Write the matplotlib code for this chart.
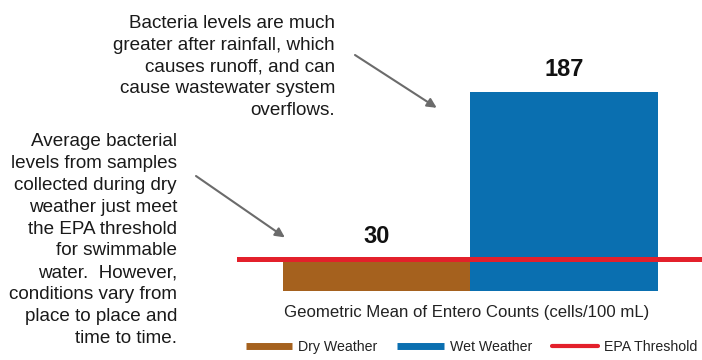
import matplotlib.pyplot as plt
from matplotlib.lines import Line2D

plt.rcParams['font.family'] = ['Liberation Sans', 'DejaVu Sans']

categories = ['Dry Weather', 'Wet Weather']
values = [30, 187]
epa_threshold = 30
colors = ['#A5611E', '#0A6FB0']
red = '#E3202B'

dry_note = ('Average bacterial\nlevels from samples\ncollected during dry\nweather just meet\n'
            'the EPA threshold\nfor swimmable\nwater.  However,\nconditions vary from\n'
            'place to place and\ntime to time.')
wet_note = ('Bacteria levels are much\ngreater after rainfall, which\ncauses runoff, and can\n'
            'cause wastewater system\noverflows.')

W, H = 702, 360
fig = plt.figure(figsize=(W / 100, H / 100), dpi=100)
ax = fig.add_axes([237 / W, 1 - 290.5 / H, 465 / W, 230.5 / H])

x = [0, 1]
ax.bar(x, values, width=1.0, color=colors, zorder=2)
ax.axhline(epa_threshold, color=red, lw=3.6, zorder=3)
for xi, v in zip(x, values):
    ax.annotate(str(v), xy=(xi, v), xytext=(0, 8), textcoords='offset points',
                ha='center', va='bottom', fontsize=17, fontweight='bold', color='#111111')

ax.set_xlim(-0.745, 1.735)
ax.set_ylim(0, 217)
ax.axis('off')

fig.text(467 / W, 1 - 313 / H, 'Geometric Mean of Entero Counts (cells/100 mL)',
         ha='center', va='center', fontsize=12.1, color='#222222')

# annotation texts
fig.text(177 / W, 1 - 240 / H, dry_note, ha='right', va='center', fontsize=13.6,
         color='#1a1a1a', linespacing=1.38)
fig.text(335 / W, 1 - 67 / H, wet_note, ha='right', va='center', fontsize=13.6,
         color='#1a1a1a', linespacing=1.38)

arrow = dict(arrowstyle='-|>', color='#6b6b6b', lw=1.5, mutation_scale=14,
             shrinkA=0, shrinkB=0)
ax.annotate('', xy=(-0.49, 50), xycoords='data',
            xytext=(196 / W, 1 - 176 / H), textcoords='figure fraction', arrowprops=arrow)
ax.annotate('', xy=(0.32, 172), xycoords='data',
            xytext=(355 / W, 1 - 55 / H), textcoords='figure fraction', arrowprops=arrow)

handles = [Line2D([], [], color=colors[0], lw=5, solid_capstyle='butt'),
           Line2D([], [], color=colors[1], lw=5, solid_capstyle='butt'),
           Line2D([], [], color=red, lw=3, solid_capstyle='round')]
fig.legend(handles, categories + ['EPA Threshold'], loc='center',
           bbox_to_anchor=(471.5 / W, 1 - 347 / H), ncol=3, frameon=False,
           fontsize=10.2, handlelength=3.3, handletextpad=0.4, columnspacing=1.4,
           labelcolor='#222222')

fig.savefig('out.png', dpi=100)
